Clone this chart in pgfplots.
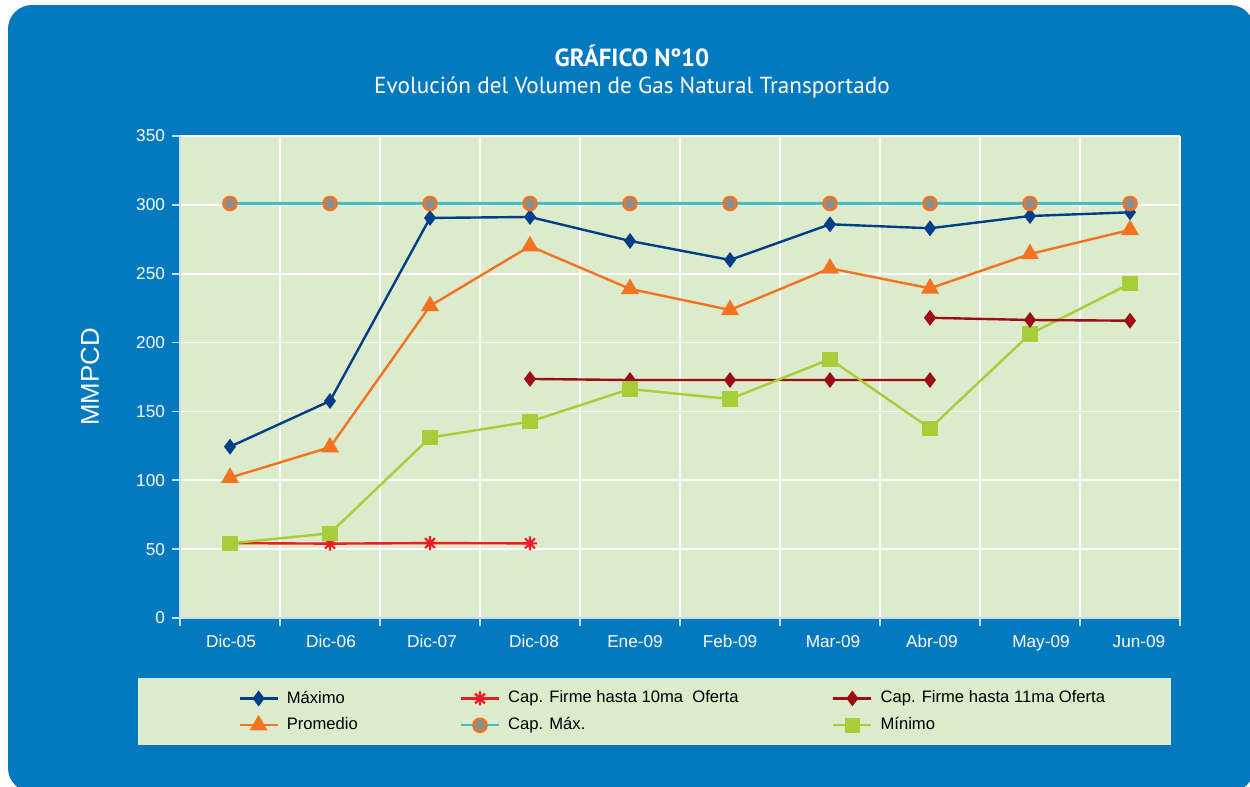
\documentclass[border=0pt]{standalone}
\usepackage{pgfplots}
\pgfplotsset{compat=1.18}
\usepackage{fontspec}
\setmainfont{Liberation Sans}
\newfontfamily\titlefont{PT Sans}
\definecolor{panel}{HTML}{0379C0}
\definecolor{plotbg}{HTML}{DCEBCB}
\definecolor{cmax}{HTML}{003F87}
\definecolor{cprom}{HTML}{F47321}
\definecolor{cten}{HTML}{ED1C24}
\definecolor{ccap}{HTML}{3FC0C8}
\definecolor{cgray}{HTML}{8D8D8D}
\definecolor{celeven}{HTML}{9B0E15}
\definecolor{cmin}{HTML}{A6CE39}
\definecolor{axline}{HTML}{C9DDEE}
\pgfdeclareplotmark{star8}{%
  \pgfpathmoveto{\pgfqpoint{0pt}{\pgfplotmarksize}}\pgfpathlineto{\pgfqpoint{0pt}{-\pgfplotmarksize}}%
  \pgfpathmoveto{\pgfqpoint{\pgfplotmarksize}{0pt}}\pgfpathlineto{\pgfqpoint{-\pgfplotmarksize}{0pt}}%
  \pgfpathmoveto{\pgfqpoint{.707\pgfplotmarksize}{.707\pgfplotmarksize}}\pgfpathlineto{\pgfqpoint{-.707\pgfplotmarksize}{-.707\pgfplotmarksize}}%
  \pgfpathmoveto{\pgfqpoint{-.707\pgfplotmarksize}{.707\pgfplotmarksize}}\pgfpathlineto{\pgfqpoint{.707\pgfplotmarksize}{-.707\pgfplotmarksize}}%
  \pgfusepathqstroke}
\begin{document}
\begin{tikzpicture}
\useasboundingbox (0pt,0pt) rectangle (625pt,-393.5pt);
\fill[white] (0pt,0pt) rectangle (625pt,-393.5pt);
\fill[panel, rounded corners=12pt] (4pt,-2.5pt) rectangle (627pt,-396pt);
\fill[plotbg] (69pt,-339pt) rectangle (585.5pt,-372.5pt);
\node[anchor=base, text=white, font=\titlefont\bfseries\fontsize{12.4pt}{14pt}\selectfont] at (316pt,-33pt) {GRÁFICO Nº10};
\node[anchor=base, text=white, font=\titlefont\fontsize{11.6pt}{14pt}\selectfont] at (316pt,-46.5pt) {Evolución del Volumen de Gas Natural Transportado};
\begin{axis}[
  at={(90pt,-309pt)}, anchor=south west,
  scale only axis, width=500pt, height=241pt,
  xmin=-0.5, xmax=9.5, ymin=0, ymax=350,
  xtick={0.01,1.01,2.02,3.04,4.05,5.0,6.03,7.02,8.11,9.09},
  xticklabels={Dic-05,Dic-06,Dic-07,Dic-08,Ene-09,Feb-09,Mar-09,Abr-09,May-09,Jun-09},
  minor xtick={-0.5,0.5,...,9.5},
  ytick={0,50,...,350},
  xminorgrids, ymajorgrids,
  major grid style={white, line width=0.9pt},
  minor grid style={white, line width=0.9pt},
  tick align=outside,
  major x tick style={draw=none},
  minor x tick style={axline, line width=0.8pt},
  ytick style={axline, line width=0.8pt},
  major tick length=4pt, minor tick length=4pt,
  axis x line*=bottom, axis y line*=left,
  axis line style={axline, line width=0.8pt, -},
  axis background/.style={fill=plotbg},
  tick label style={text=white, font=\fontsize{8.6pt}{10pt}\selectfont},
  /pgf/number format/assume math mode=true,
  xticklabel style={yshift=-1pt},
  ylabel={MMPCD},
  ylabel style={at={(axis description cs:-0.09,0.5)}, anchor=center, text=white, font=\fontsize{12.9pt}{14pt}\selectfont},
  legend columns=3,
  legend cell align=left,
  legend image code/.code={\draw[mark repeat=2,mark phase=2,#1] plot coordinates {(0pt,0pt) (9.5pt,0pt) (19pt,0pt)};},
  legend style={draw=none, fill=none, at={(axis description cs:0.058,-0.142)}, anchor=north west,
    inner sep=0pt, font=\fontsize{8.3pt}{10pt}\selectfont, row sep=1.8pt,
    /tikz/every odd column/.append style={column sep=2pt}},
  every axis plot/.append style={line width=1.2pt},
]
\addplot[cmax, mark=diamond*, mark size=3pt, mark options={fill=cmax}] coordinates {
(0,124.4) (1,157.6) (2,290.5) (3,291.2) (4,273.8) (5,260) (6,285.9) (7,283) (8,291.9) (9,294.6)};
\addlegendentry{\makebox[84.5pt][l]{Máximo}}
\addplot[cten, mark=star8, mark size=3.5pt, mark options={line width=1.1pt}] coordinates {
(0,54.4) (1,54) (2,54.4) (3,54.2)};
\addlegendentry{\makebox[160pt][l]{Cap. Firme hasta 10ma\ \ Oferta}}
\addplot[celeven, mark=diamond*, mark size=3pt, mark options={fill=celeven}] coordinates {
(3,173.6) (4,172.8) (5,172.8) (6,172.8) (7,172.8)};
\addlegendentry{Cap. Firme hasta 11ma Oferta}
\addplot[cprom, mark=triangle*, mark size=4pt, mark options={fill=cprom}] coordinates {
(0,101.9) (1,124) (2,226.6) (3,270) (4,239) (5,223.7) (6,253.9) (7,239.4) (8,264.3) (9,281.8)};
\addlegendentry{Promedio}
\addplot[ccap, mark=*, mark size=3.3pt, mark options={fill=cgray, draw=cprom, line width=1.2pt}] coordinates {
(0,301) (1,301) (2,301) (3,301) (4,301) (5,301) (6,301) (7,301) (8,301) (9,301)};
\addlegendentry{Cap. Máx.}
\addplot[cmin, mark=square*, mark size=3.2pt, mark options={fill=cmin}] coordinates {
(0,54.2) (1,61.5) (2,131) (3,142.6) (4,166.3) (5,159) (6,188) (7,137.7) (8,206.2) (9,242.8)};
\addlegendentry{Mínimo}
\addplot[celeven, mark=diamond*, mark size=3pt, mark options={fill=celeven}, forget plot] coordinates {
(7,218) (8,216.4) (9,215.9)};
\end{axis}
\end{tikzpicture}
\end{document}
